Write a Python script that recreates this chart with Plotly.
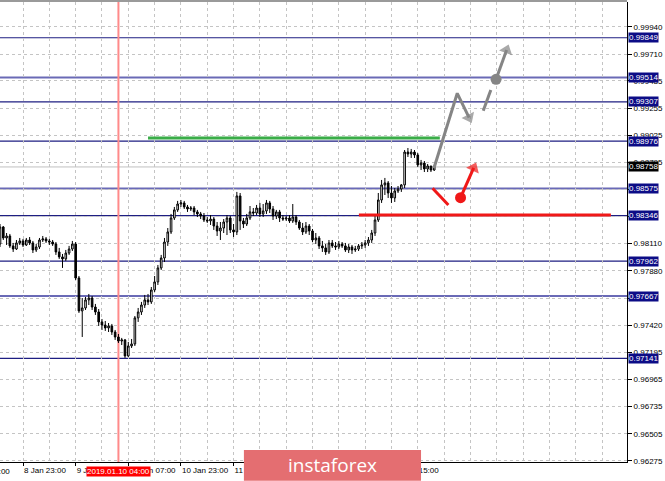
import plotly.graph_objects as go

# ---------------- data ----------------
bars = list(range(133))  # H1 bar index; bar 7 = 8 Jan 23:00

opens = [0.98107, 0.98251, 0.98158, 0.98175, 0.98091, 0.98065, 0.98116, 0.98133, 0.98099, 0.98141,
         0.98116, 0.98057, 0.98082, 0.98141, 0.98150, 0.98133, 0.98124, 0.98107, 0.98040, 0.97998,
         0.97981, 0.98031, 0.98065, 0.98107, 0.97820, 0.97542, 0.97567, 0.97635, 0.97651, 0.97575,
         0.97533, 0.97449, 0.97423, 0.97398, 0.97415, 0.97364, 0.97322, 0.97288, 0.97297, 0.97162,
         0.97246, 0.97263, 0.97483, 0.97533, 0.97592, 0.97635, 0.97618, 0.97719, 0.97787, 0.97905,
         0.97989, 0.98124, 0.98209, 0.98327, 0.98395, 0.98445, 0.98454, 0.98420, 0.98403, 0.98411,
         0.98378, 0.98361, 0.98344, 0.98310, 0.98302, 0.98318, 0.98259, 0.98217, 0.98242, 0.98293,
         0.98327, 0.98226, 0.98209, 0.98513, 0.98302, 0.98276, 0.98327, 0.98378, 0.98369, 0.98411,
         0.98361, 0.98386, 0.98454, 0.98403, 0.98344, 0.98378, 0.98327, 0.98318, 0.98327, 0.98302,
         0.98335, 0.98293, 0.98242, 0.98209, 0.98259, 0.98217, 0.98141, 0.98158, 0.98091, 0.98074,
         0.98040, 0.98116, 0.98091, 0.98082, 0.98107, 0.98091, 0.98057, 0.98082, 0.98057, 0.98065,
         0.98091, 0.98099, 0.98116, 0.98141, 0.98200, 0.98310, 0.98479, 0.98606, 0.98623, 0.98538,
         0.98496, 0.98555, 0.98572, 0.98606, 0.98884, 0.98867, 0.98884, 0.98859, 0.98775, 0.98791,
         0.98741, 0.98766, 0.98732]

highs = [0.98276, 0.98259, 0.98200, 0.98192, 0.98116, 0.98141, 0.98158, 0.98150, 0.98158, 0.98166,
         0.98133, 0.98107, 0.98158, 0.98175, 0.98166, 0.98150, 0.98141, 0.98124, 0.98074, 0.98023,
         0.98057, 0.98091, 0.98133, 0.98124, 0.97837, 0.97651, 0.97660, 0.97685, 0.97668, 0.97601,
         0.97558, 0.97474, 0.97457, 0.97440, 0.97432, 0.97381, 0.97347, 0.97314, 0.97305, 0.97280,
         0.97305, 0.97499, 0.97567, 0.97618, 0.97677, 0.97685, 0.97744, 0.97837, 0.97930, 0.98015,
         0.98158, 0.98242, 0.98361, 0.98420, 0.98471, 0.98479, 0.98471, 0.98437, 0.98428, 0.98428,
         0.98395, 0.98378, 0.98369, 0.98335, 0.98352, 0.98335, 0.98293, 0.98293, 0.98318, 0.98352,
         0.98344, 0.98276, 0.98547, 0.98538, 0.98327, 0.98361, 0.98428, 0.98411, 0.98437, 0.98454,
         0.98445, 0.98479, 0.98471, 0.98428, 0.98395, 0.98395, 0.98352, 0.98344, 0.98352, 0.98445,
         0.98352, 0.98310, 0.98285, 0.98293, 0.98276, 0.98234, 0.98200, 0.98175, 0.98133, 0.98107,
         0.98141, 0.98141, 0.98124, 0.98133, 0.98124, 0.98116, 0.98107, 0.98099, 0.98091, 0.98107,
         0.98124, 0.98141, 0.98166, 0.98226, 0.98344, 0.98538, 0.98648, 0.98665, 0.98639, 0.98597,
         0.98580, 0.98597, 0.98614, 0.98901, 0.98918, 0.98910, 0.98901, 0.98876, 0.98817, 0.98808,
         0.98783, 0.98766, 0.98775]

lows = [0.98082, 0.98141, 0.98099, 0.98074, 0.98040, 0.98057, 0.98099, 0.98082, 0.98091, 0.98099,
        0.98031, 0.98040, 0.98065, 0.98124, 0.98116, 0.98099, 0.98091, 0.98015, 0.97981, 0.97905,
        0.97964, 0.98015, 0.98048, 0.97803, 0.97525, 0.97322, 0.97550, 0.97592, 0.97550, 0.97508,
        0.97415, 0.97381, 0.97373, 0.97364, 0.97339, 0.97297, 0.97271, 0.97254, 0.97145, 0.97153,
        0.97229, 0.97246, 0.97449, 0.97508, 0.97567, 0.97592, 0.97601, 0.97702, 0.97761, 0.97888,
        0.97955, 0.98091, 0.98192, 0.98310, 0.98378, 0.98420, 0.98403, 0.98378, 0.98386, 0.98352,
        0.98335, 0.98318, 0.98293, 0.98285, 0.98268, 0.98226, 0.98175, 0.98141, 0.98200, 0.98183,
        0.98200, 0.98166, 0.98183, 0.98226, 0.98242, 0.98259, 0.98310, 0.98344, 0.98352, 0.98335,
        0.98335, 0.98361, 0.98369, 0.98310, 0.98318, 0.98293, 0.98302, 0.98302, 0.98285, 0.98285,
        0.98268, 0.98226, 0.98183, 0.98192, 0.98183, 0.98124, 0.98107, 0.98065, 0.98040, 0.98015,
        0.98023, 0.98074, 0.98057, 0.98065, 0.98074, 0.98040, 0.98031, 0.98023, 0.98040, 0.98048,
        0.98065, 0.98074, 0.98091, 0.98116, 0.98175, 0.98293, 0.98454, 0.98521, 0.98496, 0.98454,
        0.98462, 0.98538, 0.98547, 0.98580, 0.98842, 0.98834, 0.98834, 0.98758, 0.98732, 0.98715,
        0.98715, 0.98715, 0.98724]

closes = [0.98251, 0.98158, 0.98175, 0.98091, 0.98065, 0.98116, 0.98133, 0.98099, 0.98141, 0.98116,
          0.98057, 0.98082, 0.98141, 0.98150, 0.98133, 0.98124, 0.98107, 0.98040, 0.97998, 0.97981,
          0.98031, 0.98065, 0.98107, 0.97820, 0.97542, 0.97567, 0.97635, 0.97651, 0.97575, 0.97533,
          0.97449, 0.97423, 0.97398, 0.97415, 0.97364, 0.97322, 0.97288, 0.97297, 0.97162, 0.97246,
          0.97263, 0.97483, 0.97533, 0.97592, 0.97635, 0.97618, 0.97719, 0.97787, 0.97905, 0.97989,
          0.98124, 0.98209, 0.98327, 0.98395, 0.98445, 0.98454, 0.98420, 0.98403, 0.98411, 0.98378,
          0.98361, 0.98344, 0.98310, 0.98302, 0.98318, 0.98259, 0.98217, 0.98242, 0.98293, 0.98327,
          0.98226, 0.98209, 0.98513, 0.98302, 0.98276, 0.98327, 0.98378, 0.98369, 0.98411, 0.98361,
          0.98386, 0.98454, 0.98403, 0.98344, 0.98378, 0.98327, 0.98318, 0.98327, 0.98302, 0.98335,
          0.98293, 0.98242, 0.98209, 0.98259, 0.98217, 0.98141, 0.98158, 0.98091, 0.98074, 0.98040,
          0.98116, 0.98091, 0.98082, 0.98107, 0.98091, 0.98057, 0.98082, 0.98057, 0.98065, 0.98091,
          0.98099, 0.98116, 0.98141, 0.98200, 0.98310, 0.98479, 0.98606, 0.98623, 0.98538, 0.98496,
          0.98555, 0.98572, 0.98606, 0.98884, 0.98867, 0.98884, 0.98859, 0.98775, 0.98791, 0.98741,
          0.98766, 0.98732, 0.98758]

price_ticks = [0.99940, 0.99710, 0.99485, 0.99255, 0.99025, 0.98795, 0.98565, 0.98340, 0.98110,
               0.97880, 0.97650, 0.97420, 0.97195, 0.96965, 0.96735, 0.96505, 0.96275]
# labels of ticks fully hidden under level boxes in the original are left blank
price_tick_text = ["0.99940", "0.99710", "0.99485", "0.99255", "0.99025", "0.98795", "", "",
                   "0.98110", "0.97880", "", "0.97420", "0.97195", "0.96965", "0.96735",
                   "0.96505", "0.96275"]

level_prices = [0.99849, 0.99514, 0.99307, 0.98976, 0.98575, 0.98346, 0.97962, 0.97667, 0.97141]
level_major = [True, False, True, True, False, True, True, False, True]
last_price = 0.98758

time_tick_bars = [7, 23, 39, 55, 71, 87, 103, 119]
time_tick_text = ["8 Jan 23:00", "9 Jan 15:00", "10 Jan 07:00", "10 Jan 23:00",
                  "11 Jan 15:00", "14 Jan 07:00", "14 Jan 23:00", "15 Jan 15:00"]
first_label_bar = -9
first_label_text = "8 Jan 07:00"
grid_bars = [7, 15, 23, 31, 39, 47, 55, 63, 71, 79, 87, 95, 103, 111, 119, 127,
             135, 143, 151, 159, 167, 175, 183]

marker_bar = 36
marker_text = "2019.01.10 04:00"

# analysis drawings (bar index, price)
green_x = [45.0, 133.7]
green_y = [0.99002, 0.99002]
red_level_x = [109.1, 185.7]
red_level_y = [0.98352, 0.98352]
red_stroke_x = [131.5, 136.3]
red_stroke_y = [0.98578, 0.98437]
red_arrow_x = [140.0, 144.0]
red_arrow_y = [0.98498, 0.98750]
red_dot_x = [140.0]
red_dot_y = [0.98498]
gray_path_x = [131.9, 139.0, 142.6]
gray_path_y = [0.98747, 0.99380, 0.99175]
gray_dash_x = [146.9, 149.2]
gray_dash_y = [0.99233, 0.99408]
gray_arrow_x = [150.8, 154.0]
gray_arrow_y = [0.99498, 0.99745]
gray_dot_x = [150.8]
gray_dot_y = [0.99498]

x_range = [0.0, 190.6]
y_range = [0.96266, 1.00151]

FONT = "Liberation Sans"
GRID = "#c4c4c4"
RED = "#f01818"
GRAY = "#858585"

fig = go.Figure()

fig.add_trace(go.Candlestick(
    x=bars, open=opens, high=highs, low=lows, close=closes,
    increasing=dict(line=dict(color="black", width=1), fillcolor="white"),
    decreasing=dict(line=dict(color="black", width=1), fillcolor="black"),
    whiskerwidth=0, hoverinfo="skip", showlegend=False,
))

def seg(xs, ys, color, symbols=None, sizes=None):
    mode = "lines" if symbols is None else "lines+markers"
    tr = go.Scatter(x=xs, y=ys, mode=mode, line=dict(color=color, width=3),
                    hoverinfo="skip", showlegend=False, cliponaxis=False)
    if symbols is not None:
        tr.marker = dict(symbol=symbols, size=sizes, color=color, angleref="previous",
                         line=dict(width=0))
    fig.add_trace(tr)

def dot(xs, ys, color):
    fig.add_trace(go.Scatter(x=xs, y=ys, mode="markers",
                             marker=dict(symbol="circle", size=11, color=color, line=dict(width=0)),
                             hoverinfo="skip", showlegend=False, cliponaxis=False))

seg(green_x, green_y, "#3aad48")
seg(red_level_x, red_level_y, RED)
seg(red_stroke_x, red_stroke_y, RED)
seg(red_arrow_x, red_arrow_y, RED, ["circle", "triangle-up"], [0, 12])
dot(red_dot_x, red_dot_y, RED)
seg(gray_path_x, gray_path_y, GRAY, ["circle", "circle", "triangle-up"], [0, 0, 12])
seg(gray_dash_x, gray_dash_y, GRAY)
seg(gray_arrow_x, gray_arrow_y, GRAY, ["circle", "triangle-up"], [0, 12])
dot(gray_dot_x, gray_dot_y, GRAY)

shapes = []
for p, major in zip(level_prices, level_major):
    shapes.append(dict(type="line", xref="paper", x0=0, x1=1, yref="y", y0=p, y1=p,
                       line=dict(color="#1e1e82" if major else "#6a6ab6",
                                 width=1.2 if major else 2), layer="below"))
shapes.append(dict(type="line", xref="paper", x0=0, x1=1, yref="y", y0=last_price, y1=last_price,
                   line=dict(color="#c0c0c0", width=1), layer="below"))
shapes.append(dict(type="line", xref="x", x0=marker_bar, x1=marker_bar, yref="paper", y0=0, y1=1,
                   line=dict(color="#ff8a8a", width=2), layer="below"))
shapes.append(dict(type="line", xref="paper", x0=0, x1=1, yref="paper", y0=1.002, y1=1.002,
                   line=dict(color="#9a9a9a", width=2)))
# logo box
shapes.append(dict(type="rect", xref="paper", yref="paper", x0=0.389, x1=0.6715, y0=-0.041, y1=0.026,
                   fillcolor="#e46e71", line=dict(width=0), layer="above"))

annotations = []
for p, major in zip(level_prices, level_major):
    annotations.append(dict(xref="paper", x=1, yref="y", y=p, xanchor="left", yanchor="middle",
                            xshift=1, text=f"{p:.5f}", showarrow=False, bgcolor="#0c0c86",
                            borderpad=0, font=dict(family=FONT, size=8, color="white")))
annotations.append(dict(xref="paper", x=1, yref="y", y=last_price, xanchor="left", yanchor="middle",
                        xshift=1, text=f"{last_price:.5f}", showarrow=False, bgcolor="black",
                        borderpad=0, font=dict(family=FONT, size=8, color="white")))
annotations.append(dict(xref="x", x=marker_bar, yref="paper", y=0, yanchor="top", xanchor="center",
                        yshift=-4, text=marker_text, showarrow=False, bgcolor="#ff0000",
                        borderpad=0, font=dict(family=FONT, size=8, color="white")))
annotations.append(dict(xref="paper", x=(first_label_bar - x_range[0]) / (x_range[1] - x_range[0]),
                        yref="paper", y=0, yanchor="top", xanchor="left", yshift=-3, xshift=-4,
                        text=first_label_text, showarrow=False,
                        font=dict(family=FONT, size=8, color="black")))
annotations.append(dict(xref="paper", x=0.5303, yref="paper", y=-0.007, xanchor="center",
                        yanchor="middle", text="instaforex", showarrow=False,
                        font=dict(family="Open Sans", size=19, color="white")))

fig.update_layout(
    width=665, height=481,
    margin=dict(l=0, r=38, t=2, b=19, autoexpand=False),
    paper_bgcolor="white", plot_bgcolor="white",
    showlegend=False, hovermode=False,
    shapes=shapes, annotations=annotations,
    xaxis=dict(range=x_range, rangeslider=dict(visible=False),
               tickmode="array", tickvals=time_tick_bars, ticktext=time_tick_text,
               tickangle=0, automargin=False,
               ticks="outside", ticklen=3, tickcolor="black", tickwidth=1,
               ticklabelposition="outside right",
               tickfont=dict(family=FONT, size=8, color="black"),
               showline=True, linecolor="black", linewidth=1,
               showgrid=False, zeroline=False,
               minor=dict(tickmode="array", tickvals=grid_bars, showgrid=True,
                          gridcolor=GRID, griddash="3px,3px", gridwidth=1, ticks="")),
    yaxis=dict(range=y_range, side="right", tickmode="array", tickvals=price_ticks,
               ticktext=price_tick_text, automargin=False,
               ticks="outside", ticklen=4, tickcolor="black",
               tickfont=dict(family=FONT, size=8, color="black"),
               showline=True, linecolor="black", linewidth=1,
               showgrid=True, gridcolor=GRID, griddash="3px,3px", gridwidth=1,
               zeroline=False),
)

fig.write_html("out.html", config={"displayModeBar": False},
               post_script="document.body.style.margin='0';")
